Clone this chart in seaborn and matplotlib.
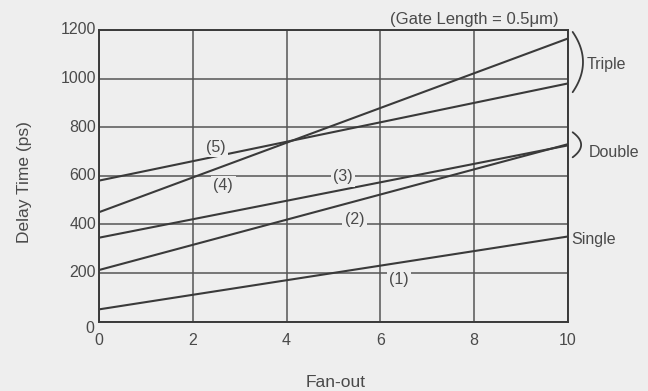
import matplotlib
matplotlib.use("Agg")
import matplotlib.pyplot as plt
import matplotlib.transforms as mtransforms
from matplotlib.ticker import MultipleLocator
import numpy as np
import pandas as pd
import seaborn as sns

# Fan-out vs. delay time for the five gate configurations
fan_out = [0, 10]
curve_names = ["(1)", "(2)", "(3)", "(4)", "(5)"]
delay_1 = [50, 350]
delay_2 = [212, 730]
delay_3 = [345, 725]
delay_4 = [450, 1165]
delay_5 = [580, 980]

# Where each curve number is written (fan-out, delay)
label_x = [6.4, 5.45, 5.2, 2.65, 2.5]
label_y = [175, 420, 595, 560, 717]

x_ticks = [0, 2, 4, 6, 8, 10]
y_ticks = [0, 200, 400, 600, 800, 1000, 1200]

BG = "#eeeeee"
INK = "#3a3a3a"
TXT = "#4a4a4a"
FS = 11.5

sns.set_theme(style="white")
plt.rcParams["font.family"] = ["Liberation Sans", "DejaVu Sans"]

frames = []
for name, vals in zip(curve_names, [delay_1, delay_2, delay_3, delay_4, delay_5]):
    frames.append(pd.DataFrame({"fan_out": fan_out, "delay": vals, "curve": name}))
df = pd.concat(frames, ignore_index=True)

fig = plt.figure(figsize=(6.48, 3.91), dpi=100, facecolor=BG)
ax = fig.add_axes([0.1528, 0.1777, 0.7237, 0.7456])
ax.set_facecolor(BG)

sns.lineplot(data=df, x="fan_out", y="delay", units="curve", estimator=None,
             color=INK, linewidth=1.5, ax=ax, legend=False)

ax.set_xlim(0, 10)
ax.set_ylim(0, 1200)
ax.set_xticks(x_ticks)
ax.set_yticks(y_ticks)
ax.xaxis.set_minor_locator(MultipleLocator(1))
ax.yaxis.set_minor_locator(MultipleLocator(100))
ax.tick_params(which="major", length=0, labelsize=FS, labelcolor=TXT)
ax.tick_params(which="minor", direction="in", length=3, width=1, color=INK)
ax.tick_params(axis="x", which="major", pad=8)
ax.tick_params(axis="y", which="major", pad=2)
ax.set_xticklabels([str(t) for t in x_ticks])
ax.set_yticklabels([str(t) for t in y_ticks])
for lbl in ax.get_yticklabels():
    lbl.set_verticalalignment("center")
# the y-axis zero sits just below the corner, next to the x-axis zero
zero_lbl = ax.get_yticklabels()[0]
zero_lbl.set_transform(zero_lbl.get_transform() +
                       mtransforms.ScaledTranslation(-0.02, -0.07, fig.dpi_scale_trans))

ax.grid(True, which="major", color="#555555", linewidth=1.1)
ax.set_axisbelow(True)
for sp in ax.spines.values():
    sp.set_visible(True)
    sp.set_color(INK)
    sp.set_linewidth(1.4)

ax.set_xlabel("Fan-out", fontsize=12.5, color=TXT)
ax.set_ylabel("Delay Time (ps)", fontsize=12.5, color=TXT)
ax.xaxis.set_label_coords(0.505, -0.185)
ax.yaxis.set_label_coords(-0.142, 0.478)

for name, lx, ly in zip(curve_names, label_x, label_y):
    ax.text(lx, ly, name, fontsize=FS, color=TXT, ha="center", va="center",
            bbox=dict(boxstyle="square,pad=0.15", facecolor=BG, edgecolor="none"))

ax.text(8.0, 1242, "(Gate Length = 0.5\u03bcm)", fontsize=12, color=TXT,
        ha="center", va="center", clip_on=False)


def bracket(y_top, y_bot, x0=10.1, bulge=0.22):
    t = np.linspace(-1, 1, 60)
    xs = x0 + bulge * (1 - t ** 2)
    ys = (y_top + y_bot) / 2 + (y_top - y_bot) / 2 * t
    ax.plot(xs, ys, color=INK, linewidth=1.3, clip_on=False)


bracket(1192, 944)
bracket(779, 676, bulge=0.18)
ax.text(10.4, 1058, "Triple", fontsize=FS, color=TXT, ha="left", va="center", clip_on=False)
ax.text(10.45, 697, "Double", fontsize=FS, color=TXT, ha="left", va="center", clip_on=False)
ax.text(10.08, 336, "Single", fontsize=FS, color=TXT, ha="left", va="center", clip_on=False)

fig.savefig("out.png", dpi=100, facecolor=BG)
